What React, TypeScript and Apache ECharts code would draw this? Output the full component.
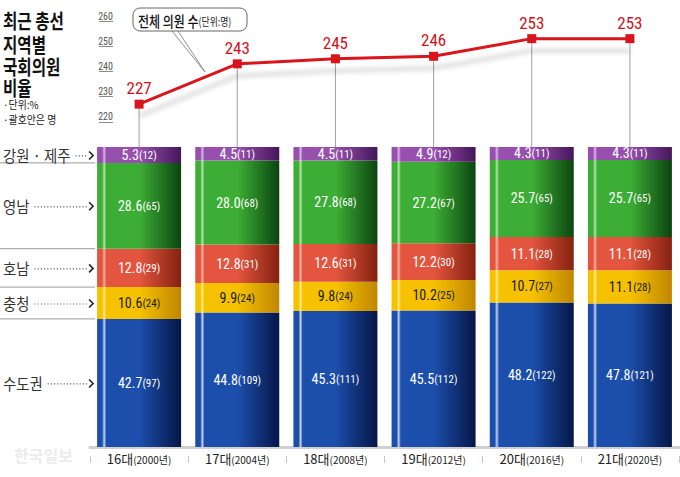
import React, { useEffect, useRef } from 'react';
import * as echarts from 'echarts';

// ---------- data ----------
const categories = ['16대', '17대', '18대', '19대', '20대', '21대'];
const years = ['2000년', '2004년', '2008년', '2012년', '2016년', '2020년'];
const totalSeats = [227, 243, 245, 246, 253, 253];
const lineTicks = [220, 230, 240, 250, 260];

// stacked bottom -> top
const regions = ['수도권', '충청', '호남', '영남', '강원 · 제주'];
const sudogwonPct = [42.7, 44.8, 45.3, 45.5, 48.2, 47.8];
const sudogwonSeats = [97, 109, 111, 112, 122, 121];
const chungcheongPct = [10.6, 9.9, 9.8, 10.2, 10.7, 11.1];
const chungcheongSeats = [24, 24, 24, 25, 27, 28];
const honamPct = [12.8, 12.8, 12.6, 12.2, 11.1, 11.1];
const honamSeats = [29, 31, 31, 30, 28, 28];
const yeongnamPct = [28.6, 28.0, 27.8, 27.2, 25.7, 25.7];
const yeongnamSeats = [65, 68, 68, 67, 65, 65];
const gangwonPct = [5.3, 4.5, 4.5, 4.9, 4.3, 4.3];
const gangwonSeats = [12, 11, 11, 12, 11, 11];

const KR = '"Noto Sans CJK KR", "Noto Sans", sans-serif';
const NUM = '"Liberation Sans Narrow", "Roboto Condensed", "Arial Narrow", Roboto, sans-serif';
const BAR_W = 84;

function grad(base: string, light: string, dark: string) {
  return new echarts.graphic.LinearGradient(0, 0, 1, 0, [
    { offset: 0, color: base },
    { offset: 0.06, color: base },
    { offset: 0.085, color: light },
    { offset: 0.11, color: base },
    { offset: 0.5, color: base },
    { offset: 1, color: dark },
  ]);
}

function measure(text: string, font: string): number {
  const c = document.createElement('canvas').getContext('2d');
  if (!c) return text.length * 14;
  c.font = font;
  return c.measureText(text).width;
}

export default function App() {
  const ref = useRef<HTMLDivElement>(null);

  useEffect(() => {
    if (!ref.current) return;
    const chart = echarts.init(ref.current, null, { renderer: 'svg' });

    const segDefs = [
      { name: regions[0], pct: sudogwonPct, seats: sudogwonSeats, c: grad('#1c4fab', '#c4d2f4', '#061648'), txt: '#ffffff' },
      { name: regions[1], pct: chungcheongPct, seats: chungcheongSeats, c: grad('#f6c200', '#fde98a', '#c08600'), txt: '#1a1a1a' },
      { name: regions[2], pct: honamPct, seats: honamSeats, c: grad('#e4553f', '#f6b0a2', '#84210f'), txt: '#ffffff' },
      { name: regions[3], pct: yeongnamPct, seats: yeongnamSeats, c: grad('#3dae35', '#b2e4a8', '#0b4510'), txt: '#ffffff' },
      { name: regions[4], pct: gangwonPct, seats: gangwonSeats, c: grad('#9750ae', '#d8b4e6', '#45165a'), txt: '#ffffff' },
    ];

    const barSeries = segDefs.map((s) => ({
      name: s.name,
      type: 'bar',
      stack: 'pct',
      xAxisIndex: 0,
      yAxisIndex: 0,
      barWidth: BAR_W,
      data: s.pct,
      itemStyle: { color: s.c },
      label: {
        show: true,
        position: 'inside',
        textBorderWidth: 0,
        textShadowBlur: 0,
        formatter: (p: any) => `{a|${s.pct[p.dataIndex].toFixed(1)}}{b|(${s.seats[p.dataIndex]})}`,
        rich: {
          a: { fontSize: 14, color: s.txt, fontFamily: NUM, fontWeight: 'normal', textBorderWidth: 0 },
          b: { fontSize: 11, color: s.txt, fontFamily: NUM, fontWeight: 'normal', textBorderWidth: 0, padding: [1, 0, 0, 0] },
        },
      },
      z: 2,
    }));

    const labelFont = `16px ${KR}`;
    const NAME_SCALE = 0.9;

    const leftLabels = {
      type: 'custom',
      xAxisIndex: 0,
      yAxisIndex: 0,
      silent: true,
      data: [0],
      z: 3,
      renderItem: (params: any, api: any) => {
        if (params.dataIndex !== 0) return null;
        const center = api.coord([0, 0]);
        const barLeft = center[0] - BAR_W / 2;
        const children: any[] = [];
        let cum = 0;
        segDefs.forEach((s, k) => {
          const p = s.pct[0];
          const yb = api.coord([0, cum])[1];
          const yt = api.coord([0, cum + p])[1];
          cum += p;
          const mid = (yb + yt) / 2;
          if (k < segDefs.length - 1) {
            children.push({
              type: 'line',
              shape: { x1: 0, y1: yt, x2: barLeft - 2, y2: yt },
              style: { stroke: '#9a9a9a', lineWidth: 1 },
            });
          }
          const w = measure(s.name, labelFont) * NAME_SCALE;
          children.push({
            type: 'text',
            x: 3,
            y: mid,
            scaleX: NAME_SCALE,
            style: {
              text: s.name,
              fontSize: 16,
              fontFamily: KR,
              fill: '#333',
              align: 'left',
              verticalAlign: 'middle',
              textAlign: 'left',
              textVerticalAlign: 'middle',
            },
          });
          const tipX = barLeft - 4;
          children.push({
            type: 'line',
            shape: { x1: 3 + w + 5, y1: mid + 1, x2: tipX - 6, y2: mid + 1 },
            style: { stroke: '#444', lineWidth: 1.2, lineDash: [1, 2.2] },
          });
          children.push({
            type: 'polyline',
            shape: { points: [[tipX - 4, mid - 3.5], [tipX, mid + 0.5], [tipX - 4, mid + 4.5]] },
            style: { stroke: '#222', lineWidth: 1.6, fill: 'none' },
          });
        });
        return { type: 'group', children };
      },
    };

    const option: any = {
      animation: false,
      backgroundColor: '#ffffff',
      grid: [
        { left: 90, width: 589, top: 147, height: 300 },
        { left: 90, width: 589, top: 21, height: 126 },
      ],
      xAxis: [
        {
          gridIndex: 0,
          type: 'category',
          data: categories,
          axisLine: { lineStyle: { color: '#d0d0d0', width: 3 } },
          axisTick: { show: false },
          axisLabel: {
            interval: 0,
            margin: 5,
            formatter: (v: string, i: number) => `{a|${v}}{b|(${years[i]})}`,
            rich: {
              a: { fontSize: 13, color: '#222', fontFamily: KR },
              b: { fontSize: 10, color: '#222', fontFamily: KR, padding: [1, 0, 0, 0] },
            },
          },
        },
        {
          gridIndex: 0,
          type: 'category',
          data: categories,
          position: 'bottom',
          offset: 9,
          axisLine: { show: false },
          axisTick: { show: true, interval: 0, length: 7, lineStyle: { color: '#c4c4c4' } },
          axisLabel: { show: false },
        },
        { gridIndex: 1, type: 'category', data: categories, show: false },
      ],
      yAxis: [
        { gridIndex: 0, type: 'value', min: 0, max: 100, show: false },
        {
          gridIndex: 1,
          type: 'value',
          min: 210,
          max: 260,
          interval: 10,
          offset: -23,
          axisLine: { show: false },
          splitLine: { show: false },
          axisTick: { show: true, length: 14, customValues: lineTicks, lineStyle: { color: '#8a8a8a' } },
          axisLabel: {
            customValues: lineTicks,
            margin: 0,
            align: 'right',
            verticalAlign: 'bottom',
            color: '#555',
            fontSize: 10,
            fontFamily: NUM,
          },
        },
      ],
      series: [
        ...barSeries,
        leftLabels,
        {
          type: 'bar',
          xAxisIndex: 2,
          yAxisIndex: 1,
          barWidth: 1,
          data: totalSeats,
          itemStyle: { color: '#a0a0a0' },
          silent: true,
          z: 1,
        },
        {
          type: 'line',
          xAxisIndex: 2,
          yAxisIndex: 1,
          data: totalSeats,
          symbol: 'rect',
          symbolSize: 9,
          lineStyle: {
            color: '#d8141c',
            width: 3,
            shadowColor: 'rgba(0,0,0,0.2)',
            shadowBlur: 5,
            shadowOffsetY: 12,
          },
          itemStyle: { color: '#d8141c' },
          label: {
            show: true,
            position: 'top',
            distance: 3,
            color: '#d0121b',
            fontSize: 17,
            fontWeight: 'normal',
            fontFamily: NUM,
            textBorderWidth: 0,
          },
          z: 5,
        },
      ],
      graphic: [
        { type: 'text', x: 3, y: 20, scaleX: 0.78, style: { text: '최근 총선', fontSize: 20, fontWeight: 'bold', fontFamily: KR, fill: '#111', verticalAlign: 'middle', textVerticalAlign: 'middle' } },
        { type: 'text', x: 3, y: 44, scaleX: 0.78, style: { text: '지역별', fontSize: 20, fontWeight: 'bold', fontFamily: KR, fill: '#111', verticalAlign: 'middle', textVerticalAlign: 'middle' } },
        { type: 'text', x: 3, y: 66.5, scaleX: 0.78, style: { text: '국회의원', fontSize: 20, fontWeight: 'bold', fontFamily: KR, fill: '#111', verticalAlign: 'middle', textVerticalAlign: 'middle' } },
        { type: 'text', x: 3, y: 87, scaleX: 0.78, style: { text: '비율', fontSize: 20, fontWeight: 'bold', fontFamily: KR, fill: '#111', verticalAlign: 'middle', textVerticalAlign: 'middle' } },
        { type: 'text', x: 3, y: 104, scaleX: 0.9, style: { text: '·단위:%', fontSize: 11, fontFamily: KR, fill: '#222', verticalAlign: 'middle', textVerticalAlign: 'middle' } },
        { type: 'text', x: 3, y: 119, scaleX: 0.9, style: { text: '·괄호안은 명', fontSize: 11, fontFamily: KR, fill: '#222', verticalAlign: 'middle', textVerticalAlign: 'middle' } },
        { type: 'polyline', shape: { points: [[172, 31], [205, 72], [178, 31]] }, style: { stroke: '#777', lineWidth: 0.8, fill: 'none' } },
        { type: 'rect', shape: { x: 133, y: 8, width: 114, height: 23, r: 7 }, style: { stroke: '#666', lineWidth: 1, fill: '#fff' } },
        {
          type: 'text', x: 138, y: 20, scaleX: 0.8,
          style: {
            text: '{a|전체 의원 수}{b|(단위:명)}',
            rich: {
              a: { fontSize: 15, fontWeight: 500, fontFamily: KR, fill: '#111', color: '#111' },
              b: { fontSize: 11, fontFamily: KR, fill: '#222', color: '#222', padding: [2, 0, 0, 0] },
            },
            verticalAlign: 'middle', textVerticalAlign: 'middle',
          },
        },
        { type: 'text', x: 14, y: 455, style: { text: '한국일보', fontSize: 16, fontWeight: 'bold', fontFamily: KR, fill: '#ececec', verticalAlign: 'middle', textVerticalAlign: 'middle' } },
      ],
    };

    chart.setOption(option);
    return () => chart.dispose();
  }, []);

  return (
    <div
      ref={ref}
      style={{ position: 'fixed', left: 0, top: 0, width: 680, height: 477, background: '#fff' }}
    />
  );
}
